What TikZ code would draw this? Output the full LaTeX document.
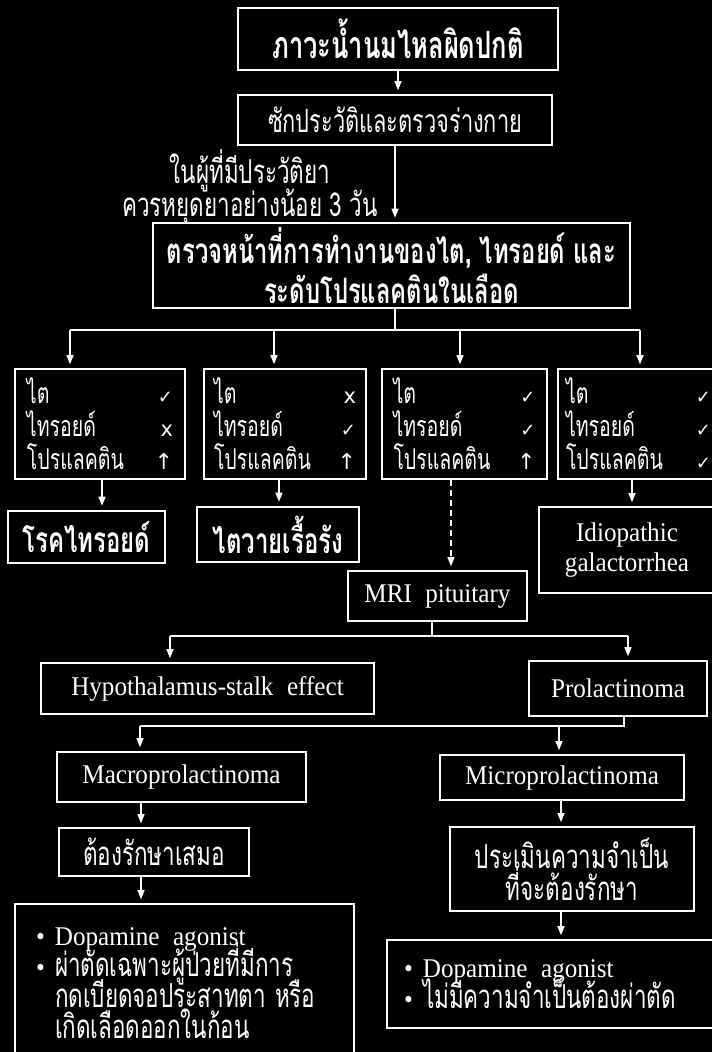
\documentclass[tikz,border=0pt]{standalone}
\usepackage{fontspec}
\setmainfont[FakeStretch=0.93]{Liberation Serif}
\newfontfamily\thai[Script=Thai,FakeStretch=0.68]{Loma}
\newfontfamily\symf{DejaVu Sans}
\usetikzlibrary{arrows.meta}
\newcommand{\tabrow}[3]{\hbox to #3{\thai #1\hfill{\symf #2}}}
\newcommand{\ck}{{\fontsize{18}{20}\selectfont ✓}}
\newcommand{\xx}{{\fontsize{21}{20}\selectfont x}}
\newcommand{\up}{{\fontsize{22}{20}\selectfont ↑}}
\newcommand{\wsp}{\hspace{0.5em}}
\newcommand{\nsk}{\lineskiplimit=-100pt\relax}
\begin{document}
\nsk
\begin{tikzpicture}[x=1pt,y=-1pt,
  box/.style={draw=white, line width=1.6pt, fill=black, text=white, inner sep=0pt, align=center},
  thickbox/.style={box, line width=2.6pt},
  conn/.style={draw=white, line width=1.3pt},
  arr/.style={conn, -{Triangle[width=7pt,length=9pt]}, shorten >=4pt},
  thR/.style={font=\thai\fontsize{32}{36}\selectfont\nsk},
  thB/.style={font=\thai\bfseries\fontsize{37.5}{40}\selectfont\nsk},
  lat/.style={font=\fontsize{27}{30}\selectfont},
  rows/.style={box, align=left, font=\thai\fontsize{28.7}{33}\selectfont\nsk, minimum height=110pt},
  bul/.style={box, align=left, font=\fontsize{27}{31}\selectfont\nsk},
]
\fill[black] (0,0) rectangle (712,1052);
\useasboundingbox (0,0) rectangle (712,1052);

% top boxes
\node[thickbox, thB, minimum width=320pt, minimum height=62pt] (b1) at (398,39) {ภาวะน้ำนมไหลผิดปกติ};
\node[box, thR, minimum width=314pt, minimum height=50pt] (b2) at (395,120) {ซักประวัติและตรวจร่างกาย};
\node[text=white, align=center, font=\thai\fontsize{33}{33}\selectfont\nsk] (note) at (250,187) {ในผู้ที่มีประวัติยา\\ควรหยุดยาอย่างน้อย 3 วัน};
\node[thickbox, font=\thai\bfseries\fontsize{35}{40}\selectfont\nsk, minimum width=477pt, minimum height=85pt] (b3) at (391.5,265.5) {ตรวจหน้าที่การทำงานของไต, ไทรอยด์ และ\\ระดับโปรแลคตินในเลือด};

% row boxes
\node[rows, minimum width=170pt] (A) at (100,424) {\tabrow{ไต}{\ck}{146pt}\\\tabrow{ไทรอยด์}{\xx}{146pt}\\\tabrow{โปรแลคติน}{\up}{146pt}};
\node[rows, minimum width=162pt] (B) at (285,424) {\tabrow{ไต}{\xx}{142pt}\\\tabrow{ไทรอยด์}{\ck}{142pt}\\\tabrow{โปรแลคติน}{\up}{142pt}};
\node[rows, minimum width=165pt] (C) at (464.5,424) {\tabrow{ไต}{\ck}{142pt}\\\tabrow{ไทรอยด์}{\ck}{142pt}\\\tabrow{โปรแลคติน}{\up}{142pt}};
\node[rows, minimum width=161pt] (D) at (638.5,424) {\tabrow{ไต}{\ck}{145pt}\\\tabrow{ไทรอยด์}{\ck}{145pt}\\\tabrow{โปรแลคติน}{\ck}{145pt}};

% results
\node[thickbox, font=\thai\bfseries\fontsize{35.3}{38}\selectfont, minimum width=157pt, minimum height=52pt] (tA) at (86.5,537) {โรคไทรอยด์};
\node[thickbox, font=\thai\bfseries\fontsize{35.3}{38}\selectfont, minimum width=162pt, minimum height=55pt] (tB) at (278,534.5) {ไตวายเรื้อรัง};
\node[box, font=\fontsize{27}{30}\selectfont, minimum width=176pt, minimum height=86pt] (idio) at (627,550) {Idiopathic\\galactorrhea};
\node[box, lat, minimum width=179pt, minimum height=50pt] (mri) at (437.5,596) {MRI\wsp pituitary};
\node[box, lat, minimum width=333pt, minimum height=51pt] (hyp) at (207.5,688.5) {Hypothalamus-stalk\wsp effect};
\node[box, lat, minimum width=178pt, minimum height=55pt] (pro) at (618,688.5) {Prolactinoma};
\node[box, lat, minimum width=249pt, minimum height=50pt] (mac) at (181.5,777) {Macroprolactinoma};
\node[box, lat, minimum width=244pt, minimum height=45pt] (mic) at (562,777.5) {Microprolactinoma};
\node[box, font=\thai\fontsize{33}{36}\selectfont, minimum width=190pt, minimum height=48pt] (tre) at (154,852) {ต้องรักษาเสมอ};
\node[box, font=\thai\fontsize{33}{32}\selectfont\nsk, minimum width=244pt, minimum height=84pt] (eva) at (572,869) {ประเมินความจำเป็น\\ที่จะต้องรักษา};
\node[bul, inner xsep=21pt, text width=297pt, minimum height=149pt] (L) at (184.5,978.5)
 {\makebox[19pt][l]{•}\rule{0pt}{28pt}Dopamine\wsp agonist\\
  \makebox[19pt][l]{•}{\thai\fontsize{33}{31}\selectfont ผ่าตัดเฉพาะผู้ป่วยที่มีการ}\\
  \hspace*{19pt}{\thai\fontsize{33}{31}\selectfont กดเบียดจอประสาทตา หรือ}\\
  \hspace*{19pt}{\thai\fontsize{33}{31}\selectfont เกิดเลือดออกในก้อน}};
\node[bul, inner xsep=17pt, text width=304pt, minimum height=88pt] (R) at (556,984)
 {\makebox[19pt][l]{•}Dopamine\wsp agonist\\
  \makebox[19pt][l]{•}{\thai\fontsize{33}{31}\selectfont ไม่มีความจำเป็นต้องผ่าตัด}};

% helper coordinates
\coordinate (j1) at (395,330);
\coordinate (jA) at (70,330);
\coordinate (jB) at (274,330);
\coordinate (jC) at (460,330);
\coordinate (jD) at (640,330);
\coordinate (xA) at (102,0);
\coordinate (xB) at (279,0);
\coordinate (xC) at (451,0);
\coordinate (xD) at (632,0);
\coordinate (j2) at (432,636);
\coordinate (jH) at (170,636);
\coordinate (jP) at (628,636);
\coordinate (j3) at (624,726);
\coordinate (jM) at (140,726);
\coordinate (jm) at (559,726);
\coordinate (xL) at (141,0);
\coordinate (xR) at (561,0);

% connectors
\draw[arr] (b1.south) -- (b2.north -| b1.south);
\draw[arr] (b2.south) -- (b3.north -| b2.south);
\draw[conn] (b3.south -| j1) -- (j1);
\draw[conn] (jA) -- (jD);
\draw[arr] (jA) -- (A.north -| jA);
\draw[arr] (jB) -- (B.north -| jB);
\draw[arr] (jC) -- (C.north -| jC);
\draw[arr] (jD) -- (D.north -| jD);
\draw[arr] (A.south -| xA) -- (tA.north -| xA);
\draw[arr] (B.south -| xB) -- (tB.north -| xB);
\draw[arr, dash pattern=on 6pt off 4pt] (C.south -| xC) -- (mri.north -| xC);
\draw[arr] (D.south -| xD) -- (idio.north -| xD);
\draw[conn] (mri.south -| j2) -- (j2);
\draw[conn] (jH) -- (jP);
\draw[arr] (jH) -- (hyp.north -| jH);
\draw[arr] (jP) -- (pro.north -| jP);
\draw[conn] (pro.south -| j3) -- (j3) -- (jM);
\draw[arr] (jM) -- (mac.north -| jM);
\draw[arr] (jm) -- (mic.north -| jm);
\draw[arr] (mac.south -| xL) -- (tre.north -| xL);
\draw[arr] (tre.south -| xL) -- (L.north -| xL);
\draw[arr] (mic.south -| xR) -- (eva.north -| xR);
\draw[arr] (eva.south -| xR) -- (R.north -| xR);
\end{tikzpicture}
\end{document}
